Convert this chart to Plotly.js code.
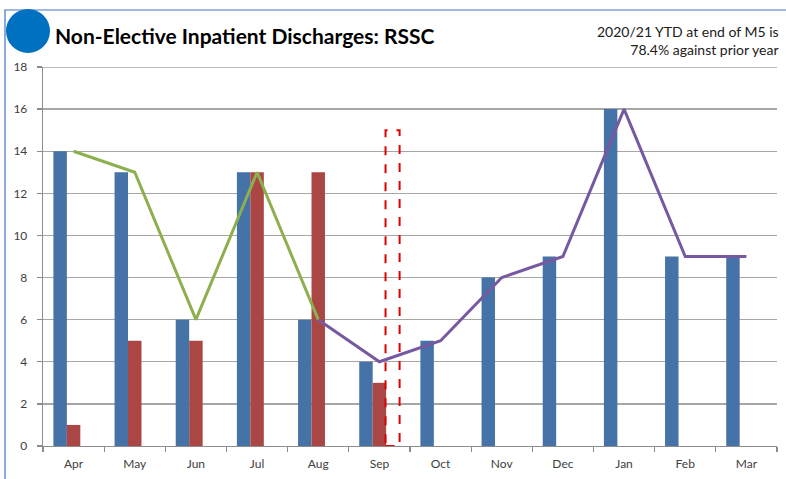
<!DOCTYPE html>
<html>
<head>
<meta charset="utf-8">
<script src="https://cdn.plot.ly/plotly-3.0.1.min.js"></script>
<style>
html,body{margin:0;padding:0;background:#fff;}
#chart{width:786px;height:479px;}
</style>
</head>
<body>
<div id="chart"></div>
<script>
var months = ["Apr","May","Jun","Jul","Aug","Sep","Oct","Nov","Dec","Jan","Feb","Mar"];
var currentYear = [14,13,6,13,6,4,5,8,9,16,9,9];
var priorYear = [1,5,5,13,13,3,null,null,null,null,null,null];
var emptySeries = [null,null,null,null,null,null,null,null,null,null,null,null];
var greenMonths = ["Apr","May","Jun","Jul","Aug"];
var greenValues = [14,13,6,13,6];
var purpleMonths = ["Aug","Sep","Oct","Nov","Dec","Jan","Feb","Mar"];
var purpleValues = [6,4,5,8,9,16,9,9];
var yTicks = [0,2,4,6,8,10,12,14,16,18];
var markerBox = {x0: 5.1, x1: 5.33, y0: 0, y1: 15};

var W = 786, H = 479, L = 43, R = 9, T = 67, B = 33;
var pw = W - L - R, ph = H - T - B;
function px(x){ return (x - L) / pw; }
function py(y){ return (H - B - y) / ph; }

var traces = [
  {type:'bar', x:months, y:currentYear, marker:{color:'#4572A7'}, hoverinfo:'none'},
  {type:'bar', x:months, y:priorYear, marker:{color:'#AA4643'}, hoverinfo:'none'},
  {type:'bar', x:months, y:emptySeries, marker:{color:'#89A54E'}, hoverinfo:'none'},
  {type:'scatter', mode:'lines', x:greenMonths, y:greenValues, line:{color:'#8DB04F', width:3}, hoverinfo:'none'},
  {type:'scatter', mode:'lines', x:purpleMonths, y:purpleValues, line:{color:'#7659A0', width:3}, hoverinfo:'none'}
];

var layout = {
  width: W, height: H,
  margin: {l:L, r:R, t:T, b:B, pad:0},
  paper_bgcolor:'#ffffff', plot_bgcolor:'#ffffff',
  showlegend:false,
  barmode:'group', bargap:0.34, bargroupgap:0,
  font:{family:'Lato, "Open Sans", sans-serif', color:'#404040', size:12},
  title:{text:'<b>Non-Elective Inpatient Discharges: RSSC</b>', x: 55/W, xanchor:'left', xref:'container',
         y: 1 - 37/H, yanchor:'middle', yref:'container',
         font:{family:'Lato, sans-serif', size:21, color:'#000000'}},
  xaxis:{type:'category', categoryarray:months, range:[-0.5, 11.5], showgrid:false,
         showline:true, linecolor:'#8c8c8c', linewidth:1.3,
         ticks:'outside', tickson:'boundaries', ticklen:5, tickcolor:'#8c8c8c', tickwidth:1.3,
         ticklabelstandoff:6,
         tickfont:{size:12, color:'#404040'}, fixedrange:true},
  yaxis:{range:[0,18], tickvals:yTicks, ticktext:yTicks.map(String),
         showgrid:true, gridcolor:'#a6a6a6', gridwidth:1.3, zeroline:false,
         showline:true, linecolor:'#8c8c8c', linewidth:1.3,
         ticks:'outside', ticklen:5, tickcolor:'#8c8c8c', tickwidth:1.3,
         ticklabelstandoff:7,
         tickfont:{size:12, color:'#404040'}, fixedrange:true},
  shapes:[
    {type:'rect', xref:'paper', yref:'paper', x0:px(5), x1:px(800), y0:py(495), y1:py(10),
     line:{color:'#4472C4', width:1.2}, fillcolor:'rgba(0,0,0,0)', layer:'below'},
    {type:'line', xref:'paper', yref:'y', x0:0, x1:1, y0:yTicks[yTicks.length-1], y1:yTicks[yTicks.length-1],
     line:{color:'#a6a6a6', width:1.3}, layer:'below'},
    {type:'circle', xref:'paper', yref:'paper', x0:px(6), x1:px(50), y0:py(53), y1:py(9),
     line:{width:0}, fillcolor:'#0070C0'},
    {type:'rect', xref:'x', yref:'y', x0:markerBox.x0, x1:markerBox.x1, y0:markerBox.y0, y1:markerBox.y1,
     line:{color:'#E00000', width:2, dash:'dash'}, fillcolor:'rgba(0,0,0,0)'}
  ],
  annotations:[
    {xref:'paper', yref:'paper', x:px(781), y:py(41), xanchor:'right', yanchor:'middle', align:'right',
     showarrow:false, text:'2020/21 YTD at end of M5 is<br>78.4% against prior year',
     font:{family:'Lato, sans-serif', size:14, color:'#202020'}}
  ]
};

Plotly.newPlot('chart', traces, layout, {staticPlot:true, displayModeBar:false});
</script>
</body>
</html>
